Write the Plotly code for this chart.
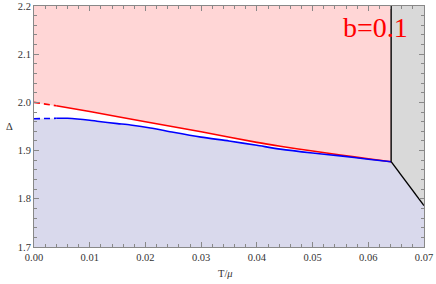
import plotly.graph_objects as go

# Data
T_red = [0.0, 0.004, 0.01, 0.02, 0.03, 0.04, 0.0442, 0.05, 0.055, 0.06, 0.0641]
D_red = [2.000, 1.993, 1.981, 1.960, 1.939, 1.917, 1.909, 1.899, 1.891, 1.883, 1.877]
T_blue = [0.0, 0.004, 0.006, 0.01, 0.0113, 0.015, 0.0173, 0.0209, 0.025, 0.03, 0.035, 0.04, 0.0442, 0.05, 0.055, 0.06, 0.0641]
D_blue = [1.966, 1.967, 1.967, 1.963, 1.961, 1.956, 1.953, 1.947, 1.938, 1.928, 1.920, 1.911, 1.903, 1.895, 1.889, 1.882, 1.877]
T_c = 0.0641          # vertical transition line
T_diag = [0.0641, 0.07]
D_diag = [1.877, 1.786]
DASH_END = 0.004
X_RANGE = [0.0, 0.07]
Y_RANGE = [1.7, 2.2]
label_text = "b=0.1"

PINK = "rgb(255,214,214)"
LAV = "rgb(217,217,236)"
GRAY = "rgb(217,217,217)"
SERIF = "Liberation Serif, Times New Roman, serif"
TXT = "#333333"

fig = go.Figure()

# Pink region: above red curve, left of transition
fig.add_trace(go.Scatter(
    x=T_red + [T_c, X_RANGE[0]], y=D_red + [Y_RANGE[1], Y_RANGE[1]],
    fill="toself", fillcolor=PINK, line=dict(width=0), mode="lines",
    hoverinfo="skip", showlegend=False))
# Lavender region: below blue curve and diagonal
fig.add_trace(go.Scatter(
    x=T_blue + T_diag[1:] + [X_RANGE[1], X_RANGE[0]],
    y=D_blue + D_diag[1:] + [Y_RANGE[0], Y_RANGE[0]],
    fill="toself", fillcolor=LAV, line=dict(width=0), mode="lines",
    hoverinfo="skip", showlegend=False))
# Gray region
fig.add_trace(go.Scatter(
    x=[T_c] + T_diag + [X_RANGE[1], T_c],
    y=[Y_RANGE[1]] + D_diag + [Y_RANGE[1], Y_RANGE[1]],
    fill="toself", fillcolor=GRAY, line=dict(width=0), mode="lines",
    hoverinfo="skip", showlegend=False))

def split(T, D, t0):
    a = [(t, d) for t, d in zip(T, D) if t <= t0]
    b = [(t, d) for t, d in zip(T, D) if t >= t0]
    return a, b

for T, D, col in [(T_red, D_red, "red"), (T_blue, D_blue, "blue")]:
    a, b = split(T, D, DASH_END)
    fig.add_trace(go.Scatter(x=[p[0] for p in a], y=[p[1] for p in a], mode="lines",
                             line=dict(color=col, width=1.6, dash="6px,4px"), showlegend=False))
    fig.add_trace(go.Scatter(x=[p[0] for p in b], y=[p[1] for p in b], mode="lines",
                             line=dict(color=col, width=1.6, shape="spline", smoothing=0.6), showlegend=False))

# Black transition lines
fig.add_trace(go.Scatter(x=[T_c, T_c], y=[Y_RANGE[1], D_diag[0]], mode="lines",
                         line=dict(color="black", width=1.4), showlegend=False))
fig.add_trace(go.Scatter(x=T_diag, y=D_diag, mode="lines",
                         line=dict(color="black", width=1.4), showlegend=False))

axis_common = dict(
    showgrid=False, zeroline=False, showline=True, linecolor="#888888", linewidth=1,
    mirror="allticks", ticks="inside", ticklen=5, tickcolor="#888888", tickwidth=1,
    tickfont=dict(family=SERIF, size=10.5, color=TXT), automargin=False,
    ticklabeloverflow="allow",
)

fig.update_layout(
    width=436, height=284,
    margin=dict(l=34, r=12, t=6, b=37),
    paper_bgcolor="white", plot_bgcolor="white",
    xaxis=dict(range=X_RANGE, tickvals=[0, 0.01, 0.02, 0.03, 0.04, 0.05, 0.06, 0.07],
               ticktext=["0.00", "0.01", "0.02", "0.03", "0.04", "0.05", "0.06", "0.07"],
               minor=dict(dtick=0.002, ticks="inside", ticklen=3, tickcolor="#888888"),
               **axis_common),
    yaxis=dict(range=Y_RANGE, tickvals=[1.7, 1.8, 1.9, 2.0, 2.1, 2.2],
               ticktext=["1.7", "1.8", "1.9", "2.0", "2.1", "2.2"],
               minor=dict(dtick=0.02, ticks="inside", ticklen=3, tickcolor="#888888"),
               **axis_common),
    annotations=[
        dict(text="Δ", xref="paper", yref="paper", x=-0.062, y=0.5, showarrow=False,
             font=dict(family=SERIF, size=10.5, color=TXT), xanchor="center", yanchor="middle"),
        dict(text="T/<i>μ</i>", xref="paper", yref="paper", x=0.492, y=0, yshift=-26,
             showarrow=False, xanchor="center", yanchor="middle",
             font=dict(family=SERIF, size=10.5, color=TXT)),
        dict(text=label_text, xref="x", yref="y", x=0.0641, y=2.2, xanchor="right", yanchor="top",
             xshift=19, yshift=-4, showarrow=False,
             font=dict(family=SERIF, size=28, color="red")),
    ],
)

fig.write_html("out.html", config={"displayModeBar": False},
               post_script="document.body.style.margin='0';document.body.style.padding='0';")
